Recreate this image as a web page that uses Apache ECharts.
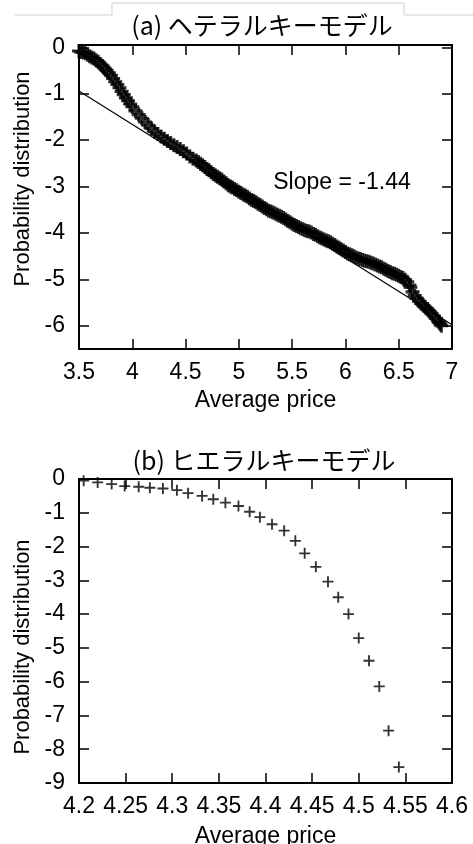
<!DOCTYPE html>
<html>
<head>
<meta charset="utf-8">
<style>
    html, body { margin: 0; padding: 0; background: #fff; }
    #chart { width: 473px; height: 844px; }
</style>
</head>
<body>
<div id="chart"></div>
<script src="https://cdn.jsdelivr.net/npm/echarts@6/dist/echarts.min.js"></script>
<script>
    // (a) heterarchy model: average price vs log probability
    var topX = [3.50, 3.52, 3.54, 3.56, 3.58, 3.60, 3.62, 3.64, 3.66, 3.68, 3.70, 3.72, 3.74, 3.76, 3.78, 3.80,
        3.82, 3.84, 3.86, 3.88, 3.90, 3.92, 3.94, 3.96, 3.98, 4.00, 4.03, 4.06, 4.09, 4.12, 4.15, 4.18, 4.21,
        4.24, 4.27, 4.30, 4.33, 4.36, 4.39, 4.42, 4.45, 4.48, 4.51, 4.54, 4.57, 4.60, 4.62, 4.64, 4.66, 4.68,
        4.70, 4.72, 4.74, 4.76, 4.78, 4.80, 4.82, 4.84, 4.86, 4.88, 4.90, 4.92, 4.94, 4.96, 4.98, 5.00, 5.02,
        5.04, 5.06, 5.08, 5.10, 5.12, 5.14, 5.16, 5.18, 5.20, 5.22, 5.24, 5.26, 5.28, 5.30, 5.32, 5.34, 5.36,
        5.38, 5.40, 5.42, 5.44, 5.46, 5.48, 5.50, 5.52, 5.54, 5.56, 5.58, 5.60, 5.62, 5.64, 5.66, 5.68, 5.70,
        5.72, 5.74, 5.76, 5.78, 5.80, 5.82, 5.84, 5.86, 5.88, 5.90, 5.92, 5.94, 5.96, 5.98, 6.00, 6.02, 6.04,
        6.06, 6.08, 6.10, 6.12, 6.14, 6.16, 6.18, 6.20, 6.22, 6.24, 6.26, 6.28, 6.30, 6.32, 6.34, 6.36, 6.38,
        6.40, 6.42, 6.44, 6.46, 6.48, 6.50, 6.52, 6.54, 6.56, 6.58, 6.60, 6.61, 6.63, 6.65, 6.67, 6.69, 6.71,
        6.73, 6.75, 6.77, 6.79, 6.81, 6.83, 6.85, 6.87, 6.88, 6.90, 6.89];
    var topY = [-0.08, -0.10, -0.11, -0.13, -0.16, -0.19, -0.22, -0.24, -0.28, -0.31, -0.36, -0.40, -0.45, -0.50, -0.55, -0.60,
        -0.67, -0.74, -0.80, -0.87, -0.95, -1.02, -1.09, -1.15, -1.22, -1.28, -1.37, -1.45, -1.53, -1.61, -1.68, -1.75, -1.82,
        -1.87, -1.92, -1.97, -2.02, -2.06, -2.11, -2.15, -2.19, -2.24, -2.29, -2.35, -2.40, -2.44, -2.47, -2.51, -2.54, -2.58,
        -2.62, -2.65, -2.69, -2.73, -2.76, -2.79, -2.82, -2.85, -2.89, -2.93, -2.97, -3.00, -3.02, -3.05, -3.08, -3.11, -3.14,
        -3.17, -3.19, -3.22, -3.26, -3.29, -3.31, -3.34, -3.37, -3.40, -3.43, -3.46, -3.49, -3.52, -3.54, -3.56, -3.58, -3.61,
        -3.63, -3.65, -3.68, -3.71, -3.74, -3.77, -3.80, -3.83, -3.85, -3.87, -3.90, -3.92, -3.94, -3.96, -3.97, -3.99, -4.02,
        -4.04, -4.07, -4.10, -4.12, -4.14, -4.16, -4.18, -4.20, -4.23, -4.26, -4.29, -4.32, -4.35, -4.38, -4.41, -4.44, -4.46,
        -4.48, -4.50, -4.53, -4.55, -4.56, -4.58, -4.60, -4.61, -4.62, -4.64, -4.66, -4.68, -4.70, -4.72, -4.74, -4.77, -4.79,
        -4.82, -4.84, -4.87, -4.88, -4.90, -4.92, -4.95, -4.97, -5.01, -5.05, -5.12, -5.17, -5.27, -5.35, -5.41, -5.47, -5.52,
        -5.56, -5.60, -5.64, -5.69, -5.74, -5.79, -5.84, -5.90, -5.93, -6.00, -5.96];
    var fitX = [3.5, 7.0];
    var fitY = [-0.94, -5.98];
    var slopeText = 'Slope = -1.44';
    var topYTicks = [0, -1, -2, -3, -4, -5, -6];

    // (b) hierarchy model
    var botX = [4.205, 4.220, 4.235, 4.249, 4.264, 4.276, 4.290, 4.305, 4.317, 4.332, 4.344, 4.357, 4.371, 4.383,
        4.394, 4.407, 4.420, 4.432, 4.442, 4.454, 4.467, 4.478, 4.489, 4.500, 4.511, 4.522, 4.532, 4.543];
    var botY = [-0.05, -0.10, -0.15, -0.21, -0.23, -0.26, -0.28, -0.33, -0.42, -0.50, -0.60, -0.70, -0.80, -0.97,
        -1.13, -1.34, -1.53, -1.83, -2.20, -2.60, -3.04, -3.50, -4.00, -4.71, -5.38, -6.14, -7.45, -8.53];

    var titleA = '(a) ヘテラルキーモデル';
    var titleB = '(b) ヒエラルキーモデル';
    var xName = 'Average price';
    var yName = 'Probability distribution';

    var FONT = 'Liberation Sans, Arial, sans-serif';
    var PLUS_THICK = 'path://M3.9,0H6.1V3.9H10V6.1H6.1V10H3.9V6.1H0V3.9H3.9Z';
    var PLUS = 'path://M4.15,0H5.85V4.15H10V5.85H5.85V10H4.15V5.85H0V4.15H4.15Z';

    function zip(xs, ys) {
        return xs.map(function (x, i) { return [x, ys[i]]; });
    }

    function frameX(grid, min, max, step, pos, labels) {
        return {
            gridIndex: grid, type: 'value', position: pos, min: min, max: max, interval: step,
            axisLine: {show: true, onZero: false, lineStyle: {color: '#000', width: 2}},
            axisTick: {show: true, inside: true, length: 10, lineStyle: {color: '#000', width: 1.5}},
            axisLabel: {show: labels, fontSize: 23, color: '#000', fontFamily: FONT, margin: 12},
            splitLine: {show: false}
        };
    }

    function frameY(grid, min, max, pos, labels, ticks) {
        var ax = {
            gridIndex: grid, type: 'value', position: pos, min: min, max: max,
            axisLine: {show: true, onZero: false, lineStyle: {color: '#000', width: 2}},
            axisTick: {show: true, inside: true, length: 10, lineStyle: {color: '#000', width: 1.5}},
            axisLabel: {show: labels, fontSize: 23, color: '#000', fontFamily: FONT, margin: 14},
            splitLine: {show: false}
        };
        if (ticks) {
            ax.axisTick.customValues = ticks;
            ax.axisLabel.customValues = ticks;
        } else {
            ax.interval = 1;
        }
        return ax;
    }

    var xa0 = frameX(0, 3.5, 7, 0.5, 'bottom', true);
    var xa1 = frameX(0, 3.5, 7, 0.5, 'top', false);
    var xb0 = frameX(1, 4.2, 4.6, 0.05, 'bottom', true);
    var xb1 = frameX(1, 4.2, 4.6, 0.05, 'top', false);
    xa0.name = xName;
    xa0.nameLocation = 'middle';
    xa0.nameGap = 40;
    xa0.nameTextStyle = {fontSize: 23, color: '#000', fontFamily: FONT};
    xb0.name = xName;
    xb0.nameLocation = 'middle';
    xb0.nameGap = 42;
    xb0.nameTextStyle = {fontSize: 23, color: '#000', fontFamily: FONT};

    var ya0 = frameY(0, -6.5, 0.05, 'left', true, topYTicks);
    var ya1 = frameY(0, -6.5, 0.05, 'right', false, topYTicks);
    var yb0 = frameY(1, -9, 0, 'left', true, null);
    var yb1 = frameY(1, -9, 0, 'right', false, null);
    ya0.name = yName;
    ya0.nameLocation = 'middle';
    ya0.nameGap = 39;
    ya0.nameTextStyle = {fontSize: 22, color: '#000', fontFamily: FONT, padding: [0, 0, 0, 36]};
    yb0.name = yName;
    yb0.nameLocation = 'middle';
    yb0.nameGap = 39;
    yb0.nameTextStyle = {fontSize: 22, color: '#000', fontFamily: FONT, padding: [0, 32, 0, 0]};

    var chart = echarts.init(document.getElementById('chart'), null, {renderer: 'canvas'});
    var option = {
        backgroundColor: '#fff',
        animation: false,
        title: [
            {text: titleA, left: 257, top: 8, textAlign: 'center',
                textStyle: {fontSize: 25, fontWeight: 'normal', color: '#000', fontFamily: 'Noto Sans CJK JP'}},
            {text: titleB, left: 259, top: 443, textAlign: 'center',
                textStyle: {fontSize: 25, fontWeight: 'normal', color: '#000', fontFamily: 'Noto Sans CJK JP'}}
        ],
        grid: [
            {left: 79, top: 45, width: 373, height: 304, outerBoundsMode: 'none'},
            {left: 79, top: 479, width: 373, height: 304, outerBoundsMode: 'none'}
        ],
        xAxis: [xa0, xa1, xb0, xb1],
        yAxis: [ya0, ya1, yb0, yb1],
        graphic: [
            {type: 'polyline', silent: true,
                shape: {points: [[15, 15], [112, 15], [112, 3], [404, 3], [404, 15], [473, 15]]},
                style: {stroke: '#cfcfcf', lineWidth: 1, fill: null}},
            {type: 'text', x: 342, y: 183, silent: true,
                style: {text: slopeText, fontSize: 23, fontFamily: FONT, fill: '#000', align: 'center', verticalAlign: 'middle'}}
        ],
        series: [
            {
                type: 'scatter', xAxisIndex: 0, yAxisIndex: 0,
                data: zip(topX, topY),
                symbol: PLUS_THICK, symbolSize: 14,
                itemStyle: {color: '#000'}
            },
            {
                type: 'line', xAxisIndex: 0, yAxisIndex: 0,
                data: zip(fitX, fitY),
                symbol: 'none',
                lineStyle: {color: '#000', width: 1.2}
            },
            {
                type: 'scatter', xAxisIndex: 2, yAxisIndex: 2,
                data: zip(botX, botY),
                symbol: PLUS, symbolSize: 11,
                itemStyle: {color: '#000'}
            }
        ]
    };
    chart.setOption(option);
</script>
</body>
</html>
